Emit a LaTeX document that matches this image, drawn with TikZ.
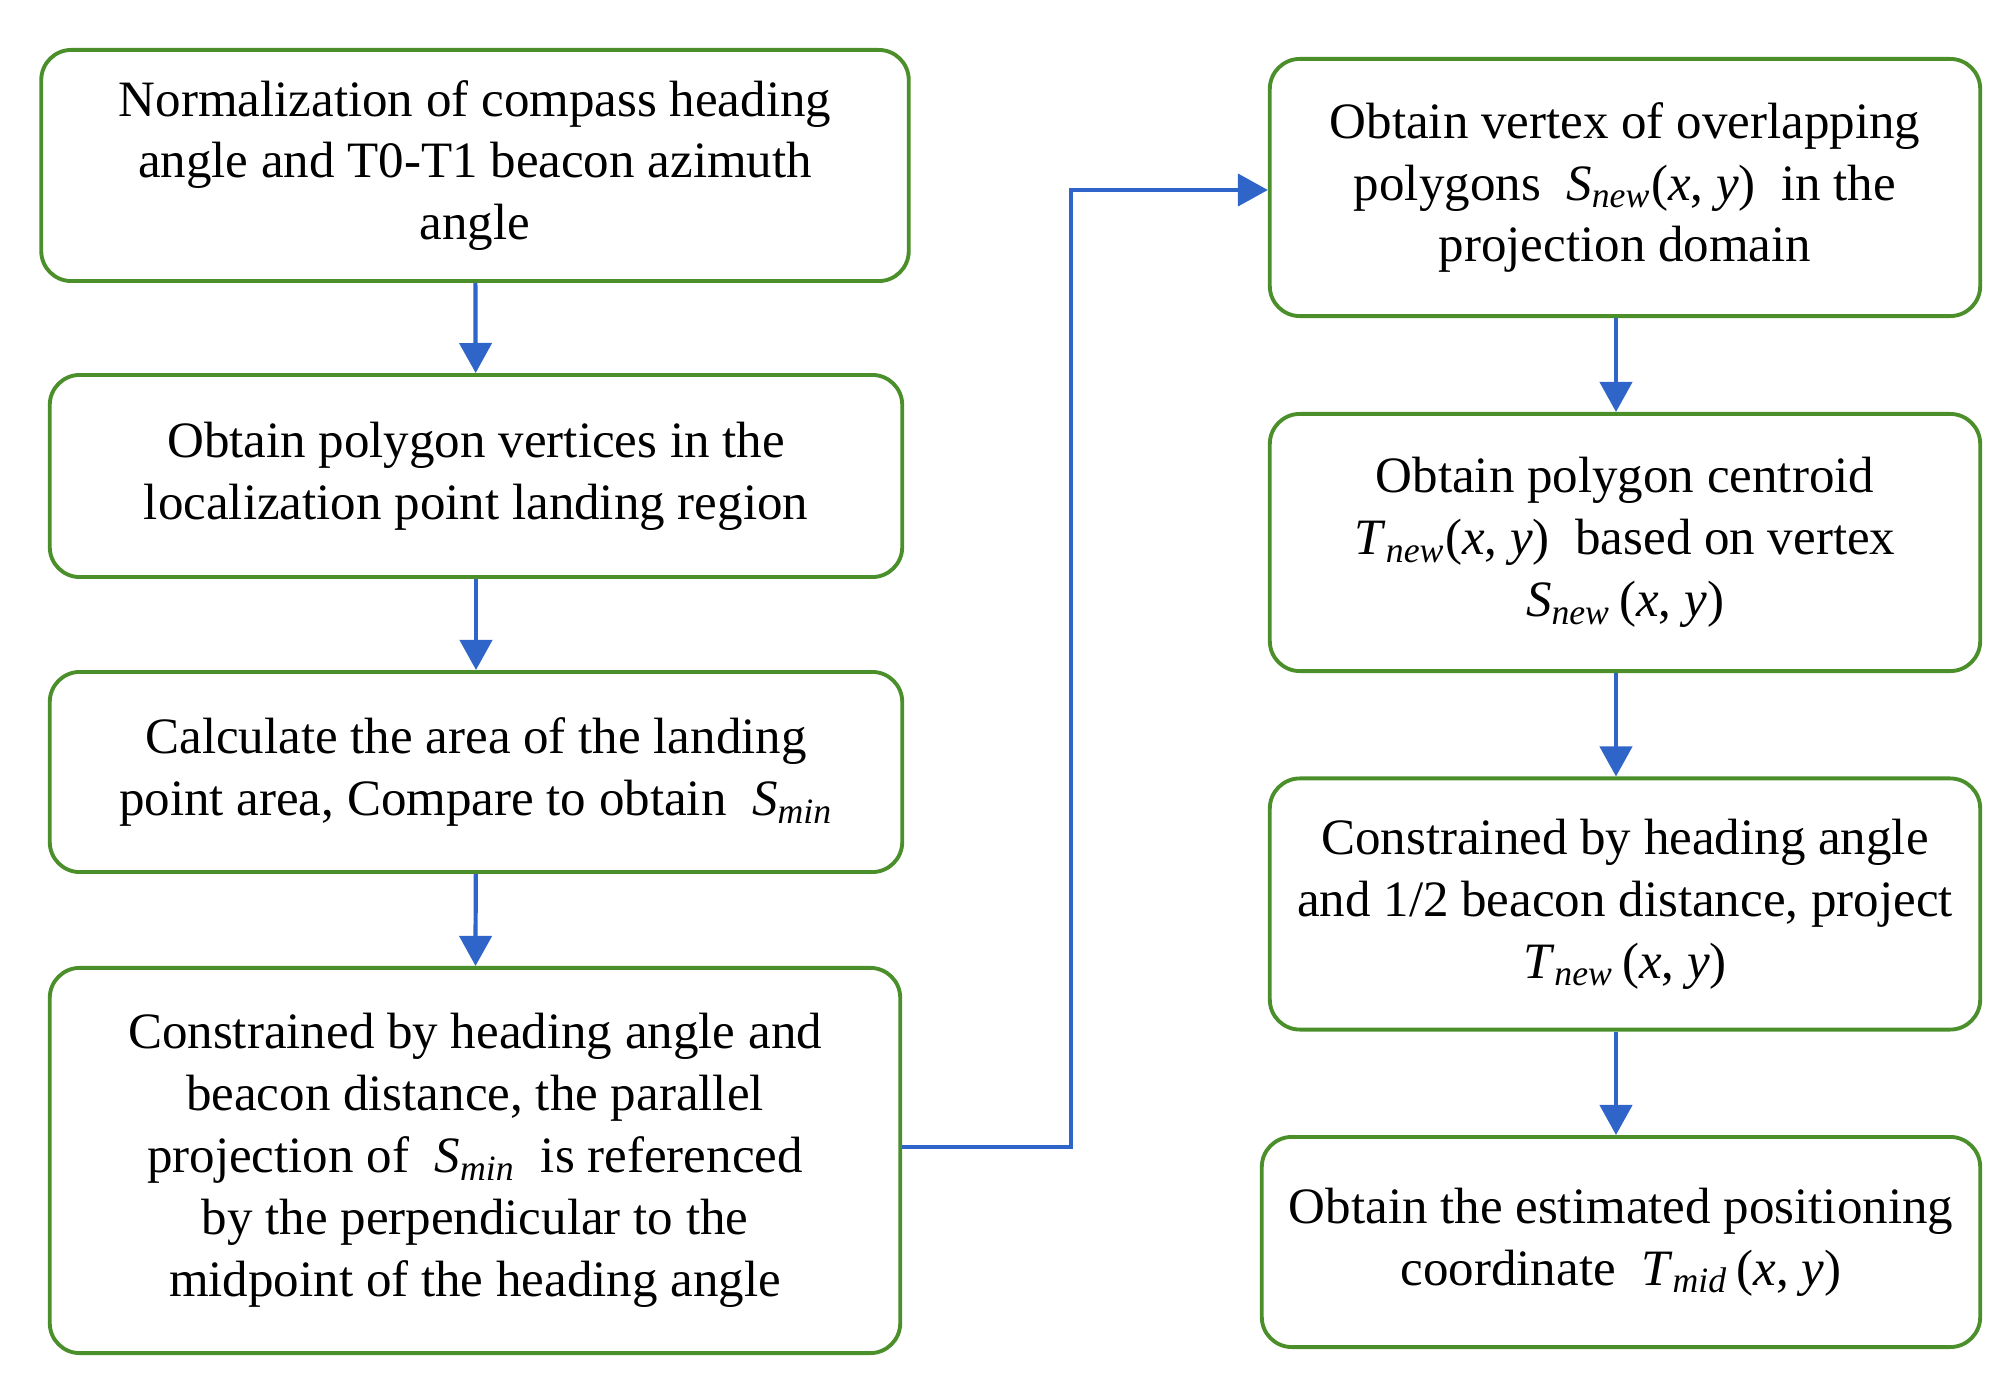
\documentclass[tikz,border=0pt]{standalone}
\usepackage{fontspec}
\setmainfont{Liberation Serif}
\usetikzlibrary{arrows.meta}
\definecolor{boxgreen}{RGB}{74,143,42}
\definecolor{arrblue}{RGB}{47,100,200}
\newcommand\mv[2]{\textit{#1}\textsubscript{\textit{#2}}}
\newcommand\xy{(\textit{x}, \textit{y})}
\begin{document}
\begin{tikzpicture}[x=0.01cm,y=-0.01cm,
  box/.style={draw=boxgreen,line width=1.1pt,rounded corners=0.3cm,fill=white,
    align=center,inner sep=0pt,font=\fontsize{14.5}{17.6}\selectfont},
  arr/.style={draw=arrblue,line width=1.2pt,-{Triangle[length=0.3cm,width=0.32cm]}}]
\useasboundingbox (0,0) rectangle (2008,1391);
\node[box,minimum width=8.67cm,minimum height=2.31cm] (b1) at (475,165.5)
  {Normalization of compass heading\\angle and T0-T1 beacon azimuth\\angle};
\node[box,minimum width=8.52cm,minimum height=2.02cm] (b2) at (476,476)
  {Obtain polygon vertices in the\\localization point landing region};
\node[box,minimum width=8.52cm,minimum height=2.00cm] (b3) at (476,772)
  {Calculate the area of the landing\\point area, Compare to obtain \ \mv{S}{min}};
\node[box,minimum width=8.50cm,minimum height=3.85cm] (b4) at (475,1160.5)
  {Constrained by heading angle and\\beacon distance, the parallel\\projection of \ \mv{S}{min} \ is referenced\\by the perpendicular to the\\midpoint of the heading angle};
\node[box,minimum width=7.10cm,minimum height=2.57cm] (b5) at (1625,187.5)
  {Obtain vertex of overlapping\\polygons \ \mv{S}{new}\xy\ \ in the\\projection domain};
\node[box,minimum width=7.10cm,minimum height=2.57cm] (b6) at (1625,542.5)
  {Obtain polygon centroid\\\mv{T}{new}\xy\ \ based on vertex\\\mv{S}{new}\,\xy};
\node[box,minimum width=7.10cm,minimum height=2.51cm] (b7) at (1625,904)
  {Constrained by heading angle\\and 1/2 beacon distance, project\\\mv{T}{new}\,\xy};
\node[box,minimum width=7.18cm,minimum height=2.10cm] (b8) at (1621,1242)
  {Obtain the estimated positioning\\coordinate \ \mv{T}{mid}\,\xy};
\draw[arr] (b1) -- (b2);
\draw[arr] (b2) -- (b3);
\draw[arr] (b3) -- (b4);
\coordinate (ra) at (1616,0);
\draw[arr] (b5.south -| ra) -- (b6.north -| ra);
\draw[arr] (b6.south -| ra) -- (b7.north -| ra);
\draw[arr] (b7.south -| ra) -- (b8.north -| ra);
\coordinate (j1) at (1071,1147);
\coordinate (j2) at (1071,190);
\draw[arr] (b4.east |- j1) -- (j1) -- (j2) -- (b5.west |- j2);
\end{tikzpicture}
\end{document}
